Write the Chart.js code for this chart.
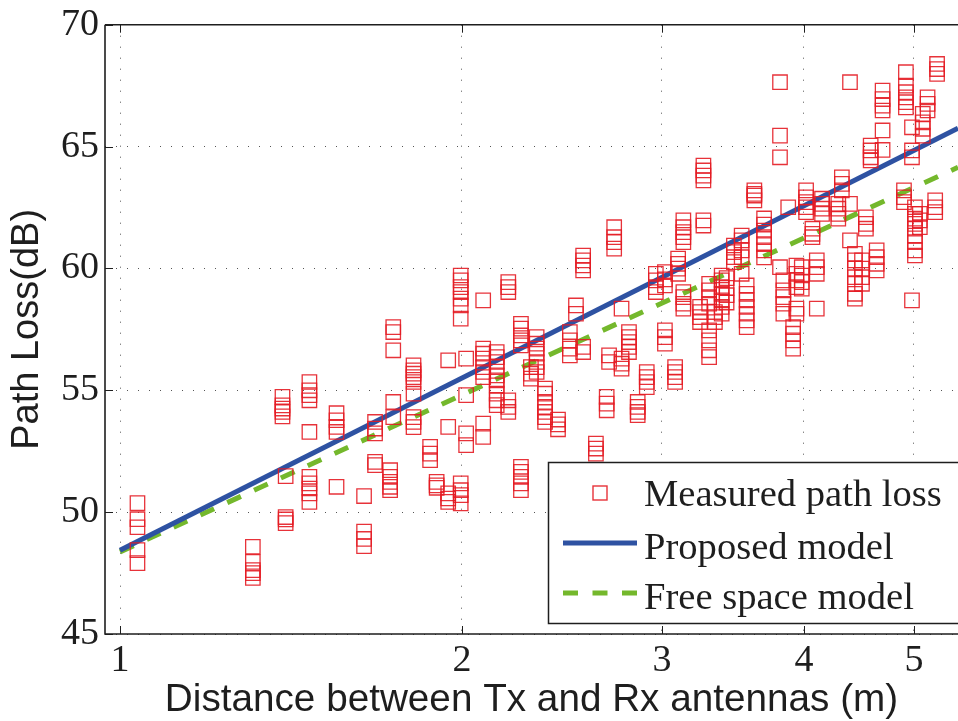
<!DOCTYPE html>
<html>
<head>
<meta charset="utf-8">
<script src="https://cdn.jsdelivr.net/npm/chart.js@4/dist/chart.umd.min.js"></script>
<style>
  html, body { margin: 0; padding: 0; background: #fff; }
  #wrap { width: 958px; height: 721px; position: relative; }
</style>
</head>
<body>
<div id="wrap"><canvas id="pathLossChart"></canvas></div>
<script>
// measured clusters: one distance per cluster, several path loss readings each
const measuredDist = [
    1.036, 1.309, 1.390, 1.399, 1.468, 1.551, 1.640, 1.677, 1.729, 1.740,
    1.813, 1.875, 1.900, 1.945, 1.995, 2.017, 2.088, 2.146, 2.197, 2.254,
    2.300, 2.327, 2.367, 2.430, 2.489, 2.520, 2.557, 2.624, 2.682, 2.695,
    2.723, 2.764, 2.806, 2.856, 2.909, 2.963, 3.018, 3.081, 3.100, 3.133,
    3.241, 3.263, 3.301, 3.340, 3.386, 3.420, 3.471, 3.526, 3.562, 3.618,
    3.690, 3.811, 3.837, 3.875, 3.914, 3.940, 3.983, 4.018, 4.070, 4.106,
    4.150, 4.289, 4.320, 4.392, 4.436, 4.500, 4.536, 4.580, 4.636, 4.692,
    4.900, 4.919, 4.980, 5.010, 5.060, 5.090, 5.140, 5.220, 5.240
];
const measuredLoss = [
    [50.37, 49.71, 49.38, 48.44, 47.91],
    [48.58, 47.96, 47.62, 47.50, 47.30],
    [54.73, 54.38, 54.25, 54.11, 53.93],
    [51.48, 49.80, 49.70, 49.55],
    [55.34, 55.00, 54.80, 54.59, 53.29, 51.45, 51.18, 50.97, 50.77, 50.42],
    [54.06, 53.77, 53.50, 53.29, 51.04],
    [50.66, 49.20, 48.90, 48.60],
    [53.70, 53.43, 53.23, 52.06, 51.93],
    [51.72, 51.45, 51.24, 51.04, 50.90],
    [57.59, 57.39, 56.64, 54.52, 53.90],
    [56.02, 55.82, 55.68, 55.54, 55.34, 54.86, 53.90, 53.70, 53.49],
    [52.68, 52.40, 52.13],
    [51.24, 51.10, 51.00],
    [56.23, 53.50, 50.77, 50.56, 50.42],
    [59.71, 59.51, 59.23, 59.03, 58.76, 58.48, 57.94, 51.18, 50.90, 50.70, 50.36],
    [56.30, 54.80, 53.23, 52.75],
    [58.69, 56.71, 56.50, 56.30, 55.95, 55.75, 55.54, 53.63, 53.09],
    [56.57, 56.36, 56.16, 55.95, 55.61, 55.41, 55.20, 54.86, 54.59, 54.39],
    [59.44, 59.23, 59.03, 54.59, 54.32, 54.11],
    [57.73, 57.53, 57.25, 57.05, 56.84, 51.86, 51.65, 51.45, 51.18, 50.90],
    [55.95, 55.68, 55.48],
    [57.18, 56.91, 56.71, 56.50, 56.16, 55.95, 55.75],
    [55.07, 54.86, 54.52, 54.32, 54.11, 53.90, 53.70],
    [53.80, 53.60, 53.40],
    [57.39, 57.05, 56.71, 56.43],
    [58.48, 58.14],
    [60.53, 60.33, 60.12, 59.92, 56.78, 56.57],
    [52.81, 52.61, 52.40],
    [54.73, 54.45, 54.18],
    [56.43, 56.16],
    [61.69, 61.28, 61.08, 60.81],
    [58.35, 56.30, 56.09, 55.89],
    [57.39, 57.18, 56.98, 56.78, 56.57],
    [54.52, 54.32, 54.11, 53.98],
    [55.75, 55.54, 55.34, 55.13],
    [59.78, 59.51, 59.23, 59.03],
    [59.85, 59.55, 59.30, 57.46, 57.18, 56.91],
    [55.95, 55.75, 55.54, 55.34],
    [60.40, 60.19, 59.99, 59.78],
    [61.97, 61.69, 61.49, 61.28, 61.08, 59.03, 58.82, 58.55, 58.35],
    [58.42, 58.21, 58.00, 57.80],
    [64.22, 64.02, 63.81, 63.61, 61.97, 61.76],
    [59.37, 59.10, 58.82, 58.55, 57.46, 57.05, 56.64, 56.36],
    [58.21, 58.00, 57.80],
    [59.71, 59.51, 59.23, 58.96, 58.69, 58.42, 58.14],
    [59.60, 59.20, 58.90, 58.60],
    [60.94, 60.67, 60.46, 60.26],
    [61.35, 61.15, 60.74, 60.46, 59.78],
    [59.30, 58.96, 58.69, 58.42, 58.14, 57.87, 57.59],
    [63.20, 63.06, 62.99, 62.79],
    [62.05, 61.80, 61.55, 61.28, 61.00, 60.74, 60.45],
    [67.64, 65.45, 64.56, 60.05],
    [59.51, 59.10, 58.82, 58.55, 58.14],
    [62.51],
    [57.59, 57.32, 57.05, 56.71],
    [60.12, 59.78, 59.51, 59.23, 58.35, 58.14],
    [60.05, 59.71, 59.44, 59.17],
    [63.20, 62.92, 62.72, 62.51, 62.31],
    [61.63, 61.42, 61.28],
    [60.33, 60.05, 59.78, 58.35],
    [62.86, 62.65, 62.45, 62.24],
    [62.65, 62.45, 62.24, 62.04],
    [63.74, 63.47, 63.20],
    [67.64, 62.65, 61.15],
    [60.60, 60.33, 59.99, 59.64, 59.37, 58.96, 58.76],
    [60.33, 59.99, 59.64, 59.37],
    [62.10, 61.83, 61.63],
    [65.04, 64.84, 64.56, 64.43],
    [60.74, 60.46, 60.19, 59.92],
    [67.30, 66.95, 66.68, 66.48, 65.66, 64.86],
    [63.20, 62.92, 62.72],
    [68.05, 67.50, 67.23, 67.02, 66.82, 66.61],
    [65.79, 64.84, 64.56, 58.69],
    [62.51, 62.24, 62.04, 61.83, 61.63, 61.35, 61.08, 60.74, 60.53],
    [62.24, 61.97, 61.69],
    [66.34, 65.99, 65.73, 65.45],
    [67.02, 66.75, 66.48],
    [62.79, 62.51, 62.31],
    [68.39, 68.18, 67.98]
];

// model lines, read at both ends of the plotted range
const modelDist = [1, 5.467];
const proposedLoss = [48.44, 65.75];
const freeSpaceLoss = [48.37, 64.15];

const xTicks = [1, 2, 3, 4, 5];
const yTicks = [45, 50, 55, 60, 65, 70];
const legendLabels = ['Measured path loss', 'Proposed model', 'Free space model'];

const RED = 'rgba(228, 28, 36, 0.9)';
const BLUE = 'rgb(46, 82, 162)';
const GREEN = 'rgb(116, 184, 44)';
const INK = '#1e1e1e';

const measuredPoints = measuredDist.flatMap((d, i) => measuredLoss[i].map(v => ({ x: d, y: v })));
const proposedPoints = modelDist.map((d, i) => ({ x: d, y: proposedLoss[i] }));
const freeSpacePoints = modelDist.map((d, i) => ({ x: d, y: freeSpaceLoss[i] }));

// axes frame, inward ticks and the boxed legend, drawn over the data
const framePlugin = {
    id: 'matlabFrame',
    afterDraw(chart) {
        const { ctx, chartArea: a, scales } = chart;
        const tickLen = 8;
        ctx.save();
        ctx.strokeStyle = INK;
        ctx.lineWidth = 1;
        ctx.beginPath();
        yTicks.forEach(v => {
            const y = Math.round(scales.y.getPixelForValue(v)) + 0.5;
            ctx.moveTo(a.left, y);
            ctx.lineTo(a.left + tickLen, y);
        });
        xTicks.forEach(v => {
            const x = Math.round(scales.x.getPixelForValue(v)) + 0.5;
            ctx.moveTo(x, a.bottom);
            ctx.lineTo(x, a.bottom - tickLen);
            ctx.moveTo(x, a.top);
            ctx.lineTo(x, a.top + tickLen);
        });
        ctx.stroke();

        // legend box
        const lx = 548.5, ly = 462.5, lw = 420, lh = 161;
        ctx.fillStyle = '#fff';
        ctx.fillRect(lx, ly, lw, lh);
        ctx.lineWidth = 1.5;
        ctx.strokeRect(lx, ly, lw, lh);

        const rows = [493, 543, 593];
        ctx.strokeStyle = RED;
        ctx.lineWidth = 1.4;
        ctx.strokeRect(593, rows[0] - 7, 14, 14);

        ctx.lineWidth = 5;
        ctx.strokeStyle = BLUE;
        ctx.beginPath();
        ctx.moveTo(563, rows[1]);
        ctx.lineTo(637, rows[1]);
        ctx.stroke();

        ctx.strokeStyle = GREEN;
        ctx.setLineDash([15, 14.5]);
        ctx.beginPath();
        ctx.moveTo(563, rows[2]);
        ctx.lineTo(637, rows[2]);
        ctx.stroke();
        ctx.setLineDash([]);

        ctx.fillStyle = INK;
        ctx.font = '38.6px "Liberation Serif", "Times New Roman", serif';
        ctx.textBaseline = 'alphabetic';
        ctx.textAlign = 'left';
        const baselines = [506, 559, 609];
        legendLabels.forEach((t, i) => ctx.fillText(t, 644, baselines[i]));

        // axis lines: left, bottom, top (right side is cut off)
        ctx.strokeStyle = INK;
        ctx.lineWidth = 1.6;
        ctx.beginPath();
        ctx.moveTo(a.left, a.top);
        ctx.lineTo(a.right + 2, a.top);
        ctx.moveTo(a.left, a.top);
        ctx.lineTo(a.left, a.bottom);
        ctx.lineTo(a.right + 2, a.bottom);
        ctx.stroke();
        ctx.restore();
    }
};

function Create_PathLoss_Chart(canvasId) {
    const ctx = document.getElementById(canvasId);
    if (!ctx) {
        console.error(`Error finding canvas element ID ${canvasId}`);
        return null;
    }
    return new Chart(ctx, {
        type: 'scatter',
        data: {
            datasets: [{
                label: legendLabels[0],
                data: measuredPoints,
                pointStyle: 'rect',
                pointRadius: 10.2,
                pointBorderWidth: 1.3,
                pointBorderColor: RED,
                pointBackgroundColor: 'rgba(0,0,0,0)',
                order: 0
            }, {
                type: 'line',
                label: legendLabels[1],
                data: proposedPoints,
                showLine: true,
                borderColor: BLUE,
                borderWidth: 5,
                pointRadius: 0,
                fill: false,
                order: 1
            }, {
                type: 'line',
                label: legendLabels[2],
                data: freeSpacePoints,
                showLine: true,
                borderColor: GREEN,
                borderWidth: 5,
                borderDash: [15, 14.5],
                pointRadius: 0,
                fill: false,
                order: 2
            }]
        },
        options: {
            responsive: true,
            maintainAspectRatio: false,
            animation: false,
            events: [],
            layout: {
                autoPadding: false,
                padding: { top: 24.7, right: 0, left: 0, bottom: 0 }
            },
            scales: {
                x: {
                    type: 'logarithmic',
                    min: 0.97,
                    max: 5.467,
                    bounds: 'data',
                    afterBuildTicks: scale => {
                        scale.ticks = xTicks.map(v => ({ value: v }));
                    },
                    afterFit: scale => {
                        scale.height = 87;
                        scale.paddingLeft = 0;
                        scale.paddingRight = 0;
                    },
                    grid: {
                        color: '#555',
                        lineWidth: 1,
                        drawTicks: false
                    },
                    border: { display: false, dash: [1, 10] },
                    ticks: {
                        autoSkip: false,
                        maxRotation: 0,
                        padding: 8.5,
                        color: INK,
                        font: { family: '"Liberation Serif", "Times New Roman", serif', size: 38, lineHeight: 1 },
                        callback: value => String(value)
                    },
                    title: {
                        display: true,
                        text: 'Distance between Tx and Rx antennas (m)',
                        color: INK,
                        padding: { top: 0, bottom: 1.5 },
                        font: { family: '"Liberation Sans", Arial, sans-serif', size: 38.7, lineHeight: 1 }
                    }
                },
                y: {
                    min: 45,
                    max: 70,
                    afterBuildTicks: scale => {
                        scale.ticks = yTicks.map(v => ({ value: v }));
                    },
                    afterFit: scale => {
                        scale.width = 105;
                        scale.paddingTop = 0;
                        scale.paddingBottom = 0;
                    },
                    grid: {
                        color: '#555',
                        lineWidth: 1,
                        drawTicks: false
                    },
                    border: { display: false, dash: [1, 10] },
                    ticks: {
                        padding: 6,
                        color: INK,
                        font: { family: '"Liberation Serif", "Times New Roman", serif', size: 38, lineHeight: 1 }
                    },
                    title: {
                        display: true,
                        text: 'Path Loss(dB)',
                        color: INK,
                        padding: { top: 8.5, bottom: 0 },
                        font: { family: '"Liberation Sans", Arial, sans-serif', size: 38, lineHeight: 1 }
                    }
                }
            },
            plugins: {
                legend: { display: false },
                tooltip: { enabled: false }
            }
        },
        plugins: [framePlugin]
    });
}

Create_PathLoss_Chart('pathLossChart');
</script>
</body>
</html>
